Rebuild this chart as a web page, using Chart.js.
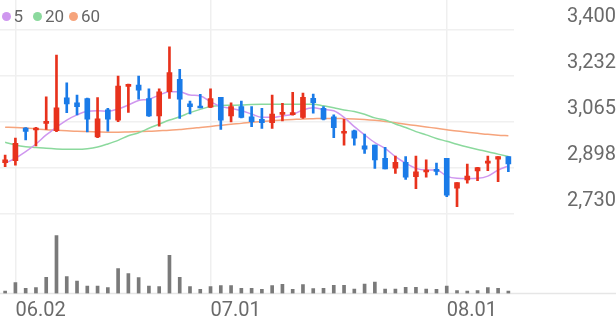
<!DOCTYPE html>
<html>
<head>
<meta charset="utf-8">
<script src="https://cdn.jsdelivr.net/npm/chart.js@4.4.1/dist/chart.umd.min.js"></script>
<style>
  body { margin: 0; background: #fff; }
  #wrap { position: relative; width: 616px; height: 321px; }
  #legend { position: absolute; left: 0; top: 0; font: 17px Roboto, sans-serif; color: #666; }
  #legend .item { position: absolute; top: 5.5px; white-space: nowrap; line-height: 20px; }
  #legend .dot { display: inline-block; width: 9px; height: 9px; border-radius: 50%; margin-right: 3px; vertical-align: 1px; }
</style>
</head>
<body>
<div id="wrap">
  <canvas id="priceChart" width="616" height="321"></canvas>
  <div id="legend"></div>
</div>
<script>
/* DATA */
const dates = ["05.30","06.02","06.04","06.05","06.09","06.10","06.11","06.12","06.13","06.16",
  "06.17","06.18","06.19","06.20","06.23","06.24","06.25","06.26","06.27","06.30",
  "07.01","07.02","07.03","07.04","07.07","07.08","07.09","07.10","07.11","07.14",
  "07.15","07.16","07.17","07.18","07.21","07.22","07.23","07.24","07.25","07.28",
  "07.29","07.30","07.31","08.01","08.04","08.05","08.06","08.07","08.08","08.11"];
const tickDates = ["06.02", "07.01", "08.01"];

const opens  = [2917,2924,3043,3036,3060,3033,3153,3135,3150,3011, 3109,3072,3195,3199,3150,3087,3175,3220,3131,3123,
                3119,3155,3087,3121,3084,3075,3063,3093,3092,3082, 3151,3115,3084,3024,3033,2978,2981,2933,2897,2918,
                2866,2883,2892,2933,2824,2854,2887,2915,2930,2939];
const highs  = [2945,3006,3045,3046,3157,3309,3208,3163,3152,3154, 3115,3232,3203,3232,3186,3186,3339,3257,3141,3166,
                3186,3155,3135,3141,3121,3115,3163,3133,3173,3170, 3167,3121,3091,3075,3036,3021,2981,2973,2941,2939,
                2941,2927,2915,2933,2844,2912,2900,2941,2939,2939];
const lows   = [2902,2908,3000,2978,3038,3030,3099,3091,3029,3008, 3032,3066,3100,3148,3085,3050,3151,3078,3094,3116,
                3117,3038,3065,3080,3048,3042,3042,3069,3090,3078, 3097,3073,3008,2981,2981,2951,2896,2894,2878,2856,
                2822,2864,2872,2793,2757,2842,2851,2888,2848,2884];
const closes = [2927,2987,3031,3040,3063,3117,3131,3121,3075,3077, 3075,3196,3200,3181,3087,3175,3245,3148,3121,3116,
                3150,3072,3121,3082,3066,3063,3094,3099,3099,3155, 3135,3075,3044,3030,3006,2966,2927,2894,2918,2864,
                2884,2887,2885,2799,2844,2868,2899,2921,2939,2912];
// volume, thousand shares
const volumes = [25,108,52,58,162,578,168,125,75,75, 58,248,198,158,75,68,382,162,68,42,
                 68,78,78,52,52,42,78,92,42,88, 48,52,82,82,45,95,115,45,45,62,
                 62,45,42,75,28,25,28,58,52,25];

const ma5  = [2915,2933,2957,2985,3018,3046,3072,3091,3104,3106, 3104,3112,3127,3143,3148,3163,3175,3175,3163,3160,
              3139,3121,3115,3106,3094,3082,3082,3087,3093,3109, 3117,3111,3106,3082,3048,3018,2990,2969,2939,2915,
              2896,2890,2890,2868,2860,2859,2860,2868,2890,2905];
const ma20 = [2991,2981,2975,2972,2969,2967,2966,2966,2968,2974, 2985,2998,3015,3026,3042,3057,3072,3084,3099,3111,
              3121,3125,3126,3127,3129,3130,3130,3130,3130,3130, 3130,3124,3117,3109,3103,3093,3080,3072,3058,3045,
              3030,3018,3005,2995,2984,2974,2965,2957,2948,2939];
const ma60 = [3046,3045,3043,3040,3037,3035,3033,3031,3030,3029, 3028,3028,3029,3030,3031,3033,3035,3038,3041,3045,
              3049,3053,3057,3060,3064,3067,3070,3072,3074,3076, 3077,3078,3078,3077,3076,3074,3071,3067,3062,3057,
              3052,3047,3042,3037,3032,3028,3024,3020,3017,3015];

const priceTicks = [2730, 2897.5, 3065, 3232.5, 3400];
const priceTickLabels = ["2,730", "2,898", "3,065", "3,232", "3,400"];

const maNames = ["5", "20", "60"];
const maColors = ["#cf97ef", "#8bd99d", "#f6a47c"];

/* COLORS */
const UP = "#e8321c", DOWN = "#1a7be8";
const candleColors = closes.map((c, i) => c >= opens[i] ? UP : DOWN);

/* LEGEND */
const legendLefts = [1.5, 33, 69];
legend.innerHTML = maNames.map((n, i) =>
  `<span class="item" style="left:${legendLefts[i]}px"><span class="dot" style="background:${maColors[i]}"></span>${n}</span>`
).join("");

Chart.defaults.font.family = "Roboto, sans-serif";

const baseline = {
  id: "baseline",
  beforeDatasetsDraw(c) {
    const ctx = c.ctx, y = c.chartArea.bottom;
    ctx.save();
    ctx.strokeStyle = "#e6e6e6";
    ctx.lineWidth = 1.5;
    ctx.beginPath();
    ctx.moveTo(0, y);
    ctx.lineTo(c.width, y);
    ctx.stroke();
    ctx.restore();
  }
};

const maLine = (data, color) => ({
  type: "line", data, borderColor: color, borderWidth: 1.5,
  pointRadius: 0, cubicInterpolationMode: "monotone", yAxisID: "y", order: 5
});

new Chart(priceChart, {
  type: "bar",
  data: {
    labels: dates,
    datasets: [
      { data: lows.map((l, i) => [l, highs[i]]), backgroundColor: candleColors, barThickness: 2,
        grouped: false, yAxisID: "y", order: 2 },
      { data: opens.map((o, i) => [o, closes[i]]), backgroundColor: candleColors, barThickness: 5,
        minBarLength: 2, grouped: false, yAxisID: "y", order: 1 },
      { data: volumes, backgroundColor: "#7a7a7a", barThickness: 3, grouped: false, yAxisID: "yv", order: 3 },
      maLine(ma5, maColors[0]),
      maLine(ma20, maColors[1]),
      maLine(ma60, maColors[2])
    ]
  },
  options: {
    responsive: false,
    animation: false,
    layout: { padding: 0 },
    plugins: { legend: { display: false }, tooltip: { enabled: false } },
    scales: {
      x: {
        offset: true,
        grid: { offset: false, color: "#efefef", lineWidth: 1.5, drawTicks: false },
        border: { display: false },
        ticks: {
          autoSkip: false, maxRotation: 0, align: "start", padding: 5,
          color: "#6a6a6a", font: { size: 20 },
          callback: (v, i) => tickDates.includes(dates[i]) ? dates[i] : null
        },
        afterFit: s => { s.height = 27.5; s.paddingLeft = 0; s.paddingRight = 0; }
      },
      y: {
        position: "right",
        min: 2440.52, max: 3509.24,
        grid: { color: "#f0f0f0", lineWidth: 1.5, drawTicks: false },
        border: { display: false },
        afterBuildTicks: s => { s.ticks = priceTicks.map(v => ({ value: v })); },
        ticks: {
          crossAlign: "far", padding: 48, labelOffset: -13,
          color: "#6a6a6a", font: { size: 20 },
          callback: (v, i) => priceTickLabels[i]
        },
        afterFit: s => { s.width = 102.5; s.paddingTop = 0; s.paddingBottom = 0; }
      },
      yv: {
        display: false, min: 0, max: 2935
      }
    }
  },
  plugins: [baseline]
});
</script>
</body>
</html>
